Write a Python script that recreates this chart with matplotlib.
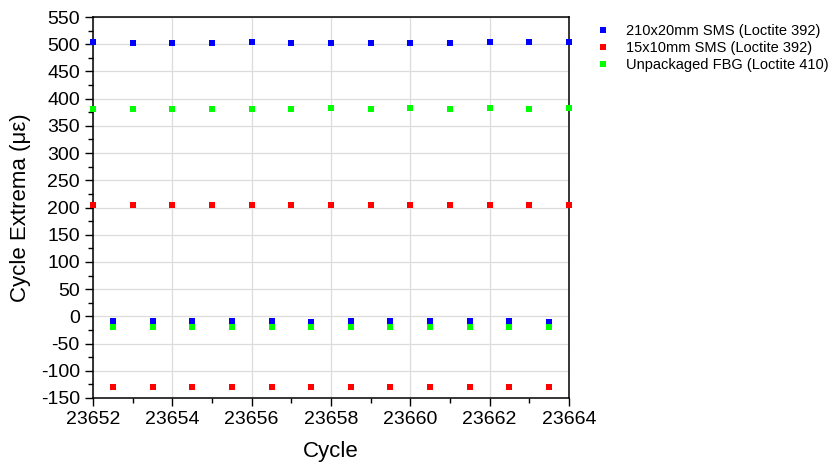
import numpy as np
import matplotlib.pyplot as plt

plt.rcParams['font.family'] = ['Liberation Sans', 'DejaVu Sans']
plt.rcParams['axes.unicode_minus'] = False

# cycle numbers: maxima at whole cycles, minima half a cycle later
cycles_max = np.arange(23652, 23665)
cycles_min = np.arange(23652.5, 23664, 1.0)

sms210_max = [504, 503, 503, 503, 505, 503, 503, 503, 503, 503, 504, 504, 505]
sms210_min = [-9, -9, -8, -9, -9, -10, -9, -8, -9, -9, -8, -10]
sms15_max = [204, 204, 204, 205, 205, 204, 204, 204, 205, 204, 205, 204, 205]
sms15_min = [-130, -130, -129, -130, -130, -130, -130, -130, -130, -130, -129, -130]
fbg_max = [381, 381, 381, 381, 381, 381, 382, 381, 382, 381, 382, 381, 382]
fbg_min = [-19, -19, -19, -19, -19, -19, -19, -19, -19, -19, -19, -19]

fig = plt.figure(figsize=(8.35, 4.7), dpi=100)
ax = fig.add_axes([0.1114, 0.1532, 0.57, 0.8106])

series = [
    ('210x20mm SMS (Loctite 392)', sms210_max, sms210_min, '#0000ff'),
    ('15x10mm SMS (Loctite 392)', sms15_max, sms15_min, '#ff0000'),
    ('Unpackaged FBG (Loctite 410)', fbg_max, fbg_min, '#00ff00'),
]
for label, ymax, ymin, c in series:
    x = np.concatenate([cycles_max, cycles_min])
    y = np.concatenate([ymax, ymin])
    order = np.argsort(x)
    ax.plot(x[order], y[order], 's', color=c, markersize=3.8, markeredgewidth=0,
            label=label, clip_on=False, zorder=3)

ax.set_xlim(23652, 23664)
ax.set_ylim(-150, 550)
ax.set_xticks(np.arange(23652, 23665, 2))
ax.set_xticks(np.arange(23652, 23665, 1), minor=True)
ax.set_yticks(np.arange(-150, 551, 50))
ax.set_yticks(np.arange(-150, 551, 25), minor=True)
ax.xaxis.set_major_formatter(plt.FormatStrFormatter('%d'))
ax.grid(True, which='major', color='#dcdcdc', linewidth=0.9)
ax.set_axisbelow(True)

ax.tick_params(which='major', direction='out', length=6, width=1, labelsize=14)
ax.tick_params(which='minor', direction='out', length=3.5, width=1)
for s in ax.spines.values():
    s.set_linewidth(1.1)

ax.set_xlabel('Cycle', fontsize=16, labelpad=9)
ax.set_ylabel('Cycle Extrema (\u03bc\u03b5)', fontsize=16, labelpad=7)

ax.legend(loc='upper left', bbox_to_anchor=(1.025, 1.015), frameon=False,
          fontsize=10.5, handlelength=1.2, handletextpad=1.0, labelspacing=0.2,
          markerscale=1.1)

fig.savefig('out.png', dpi=100)
